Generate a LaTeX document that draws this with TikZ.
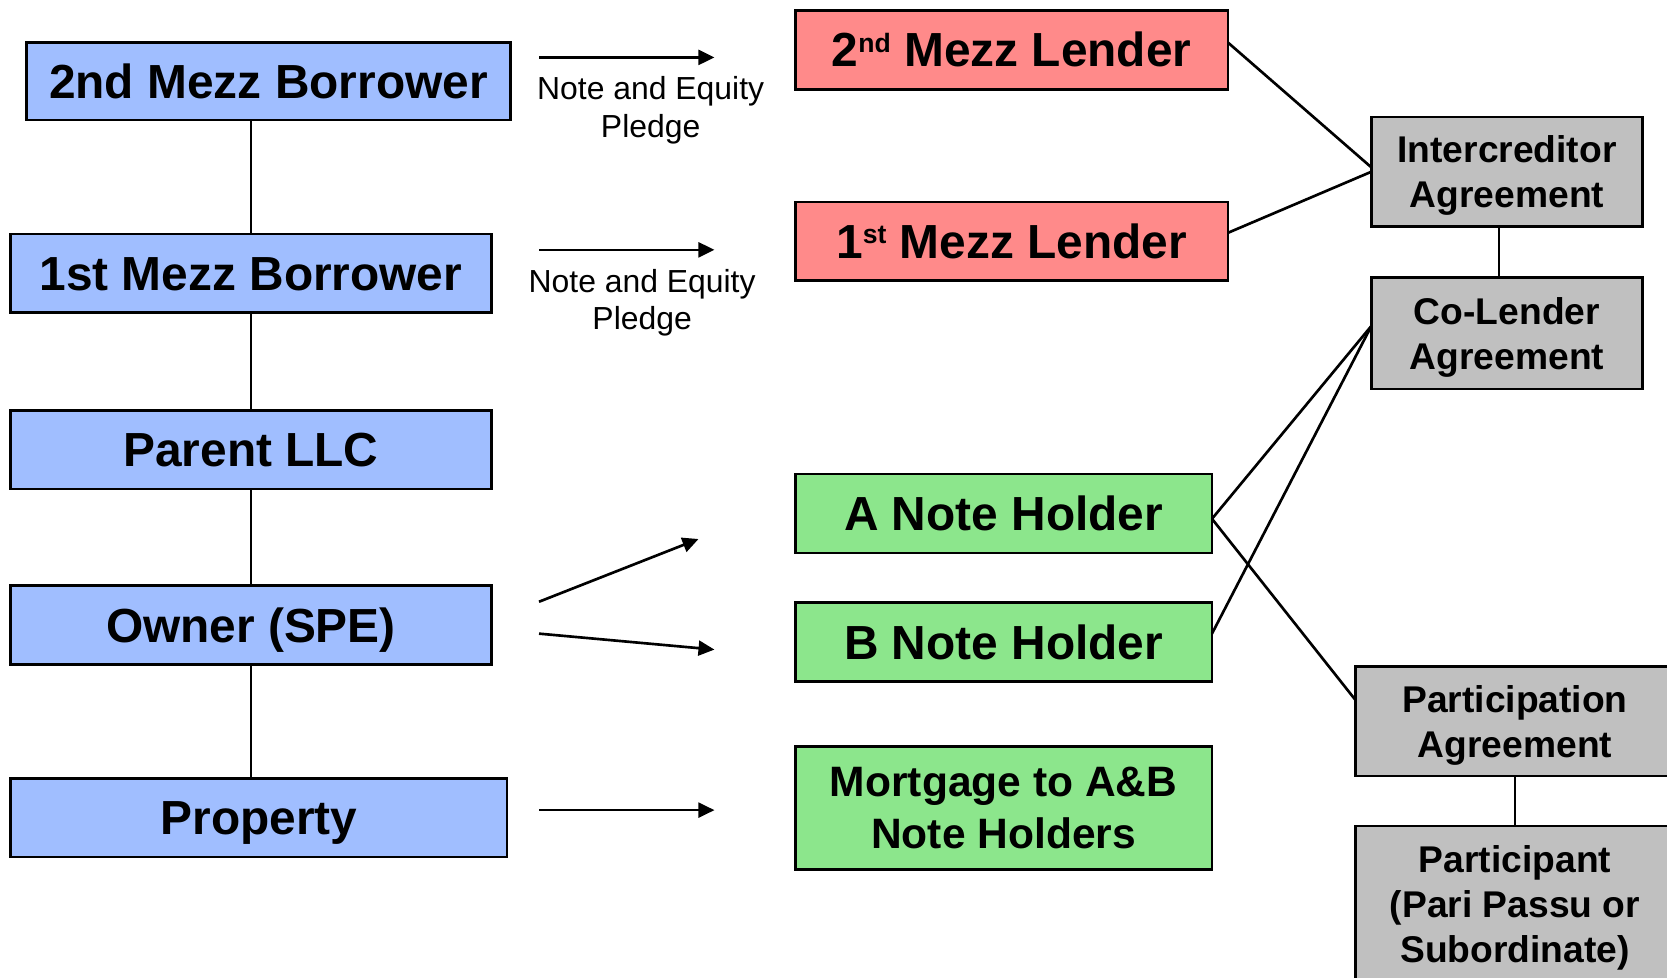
\documentclass[tikz,border=0pt]{standalone}
\usepackage{fontspec}
\setmainfont{Liberation Sans}
\usetikzlibrary{arrows.meta}
\definecolor{entblue}{RGB}{160,190,255}
\definecolor{lendred}{RGB}{255,138,138}
\definecolor{notegreen}{RGB}{140,230,140}
\definecolor{agrgray}{RGB}{192,192,192}
\newcommand{\supr}[1]{\raisebox{14pt}{\fontsize{25}{25}\selectfont #1}}
\begin{document}
\begin{tikzpicture}[x=1pt,y=-1pt,
  box/.style={draw=black,line width=2.5pt,inner sep=0pt,outer sep=0pt,align=center,
    font=\fontsize{45}{54}\selectfont\bfseries},
  oneline/.style={text height=32pt,text depth=0pt},
  entity/.style={box,oneline,fill=entblue},
  lender/.style={box,oneline,fill=lendred},
  holder/.style={box,fill=notegreen},
  agreement/.style={box,fill=agrgray,font=\fontsize{35}{42}\selectfont\bfseries,text depth=-2.2pt},
  link/.style={line width=2.5pt},
  flow/.style={line width=2.5pt,-{Triangle[length=15pt,width=14pt]}},
  pledge/.style={align=center,inner sep=0pt,font=\fontsize{30}{35}\selectfont,text depth=0pt}]
\useasboundingbox (0,0) rectangle (1568,919);
\clip (0,0) rectangle (1568,919);

% ownership chain
\node[entity,minimum width=455,minimum height=73] (b2m) at (252.5,76.5) {2nd Mezz Borrower};
\node[entity,minimum width=452,minimum height=74] (b1m) at (236,257) {1st Mezz Borrower};
\node[entity,minimum width=452,minimum height=74] (parent) at (236,423) {Parent LLC};
\node[entity,minimum width=452,minimum height=74] (owner) at (236,588) {Owner (SPE)};
\node[entity,minimum width=467,minimum height=74] (prop) at (243.5,769) {Property};

\draw[link] (b2m.south -| b1m) -- (b1m.north);
\draw[link] (b1m.south) -- (parent.north);
\draw[link] (parent.south) -- (owner.north);
\draw[link] (owner.south) -- (prop.north -| owner);

% lenders
\node[lender,minimum width=407,minimum height=74] (l2) at (951.5,47) {2\supr{nd} Mezz Lender};
\node[lender,minimum width=407,minimum height=74] (l1) at (951.5,227) {1\supr{st} Mezz Lender};

% note holders
\node[holder,oneline,minimum width=392,minimum height=74] (an) at (944,483) {A Note Holder};
\node[holder,oneline,minimum width=392,minimum height=74] (bn) at (944,604) {B Note Holder};
\node[holder,minimum width=392,minimum height=116,font=\fontsize{40}{48}\selectfont\bfseries]
  (mort) at (944,760) {Mortgage to A\&B\\Note Holders};

% agreements
\node[agreement,minimum width=255,minimum height=103] (ica) at (1417.5,161.5) {Intercreditor\\Agreement};
\node[agreement,minimum width=255,minimum height=105] (cla) at (1417.5,313.5) {Co-Lender\\Agreement};
\node[agreement,minimum width=300,minimum height=103] (pa) at (1425,678.5) {Participation\\Agreement};
\node[agreement,minimum width=300,minimum height=150,text depth=3.5pt] (pt) at (1425,852) {Participant\\(Pari Passu or\\Subordinate)};

% pledge arrows
\coordinate (a1s) at (507,54);  \coordinate (a1e) at (672,54);
\coordinate (a2s) at (507,235); \coordinate (a2e) at (672,235);
\coordinate (a3s) at (507,566); \coordinate (a3e) at (657,507);
\coordinate (a4s) at (507,596); \coordinate (a4e) at (672,611);
\coordinate (a5s) at (507,762); \coordinate (a5e) at (672,762);
\draw[flow] (a1s) -- (a1e);
\draw[flow] (a2s) -- (a2e);
\draw[flow] (a3s) -- (a3e);
\draw[flow] (a4s) -- (a4e);
\draw[flow] (a5s) -- (a5e);
\node[pledge] (p1) at (612,100.5) {Note and Equity\\Pledge};
\node[pledge] (p2) at (604,281.5) {Note and Equity\\Pledge};

% agreement links
\draw[link] ([yshift=7pt]l2.east) -- ([yshift=4pt]ica.west);
\draw[link] ([yshift=8pt]l1.east) -- (ica.west);
\draw[link] ([xshift=-7.5pt]ica.south) -- ([xshift=-7.5pt]cla.north);
\draw[link] ([yshift=-5pt]an.east) -- ([yshift=7pt]cla.west);
\draw[link] ([yshift=8pt]bn.east) -- ([yshift=7pt]cla.west);
\draw[link] ([yshift=-5pt]an.east) -- ([yshift=20pt]pa.west);
\draw[link] (pa.south) -- (pt.north);
\end{tikzpicture}
\end{document}
